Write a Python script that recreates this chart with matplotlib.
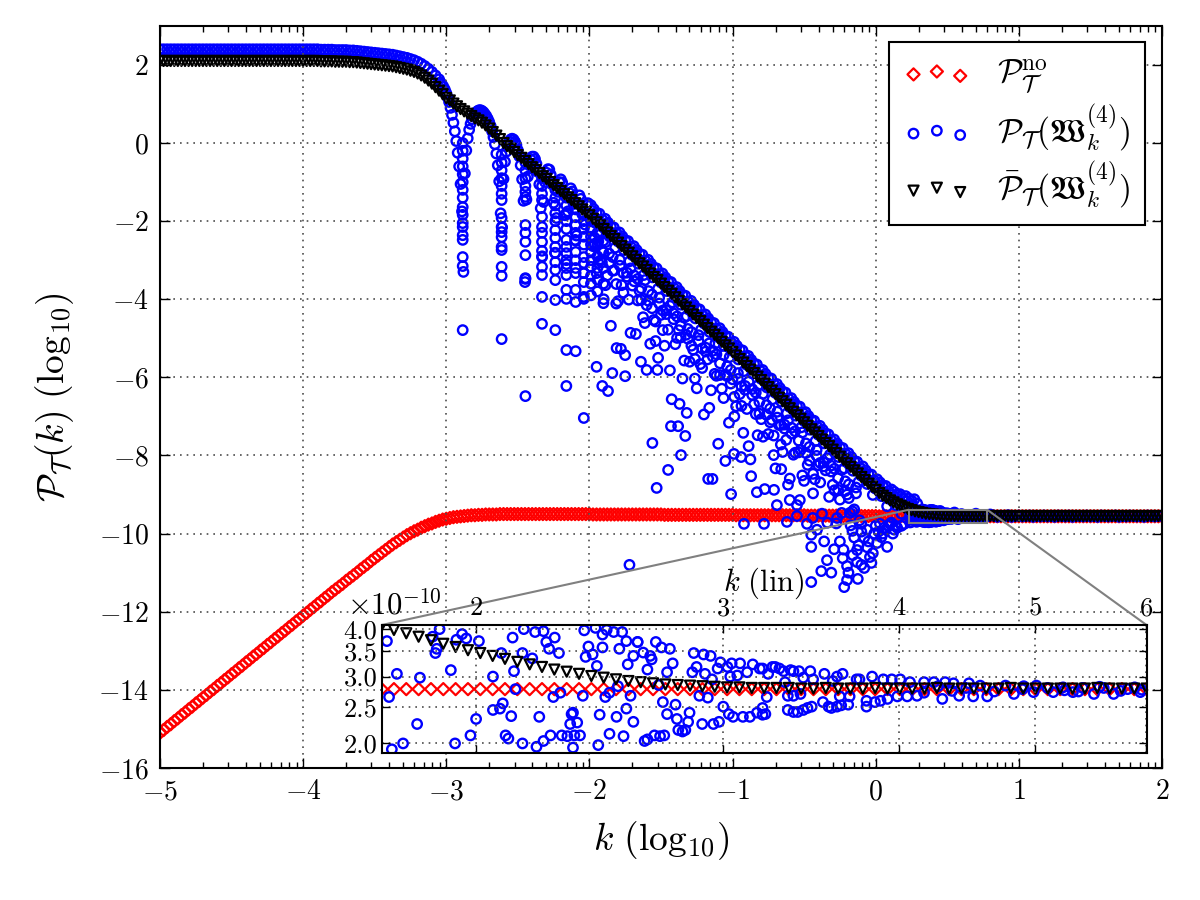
import numpy as np
import matplotlib
matplotlib.use("Agg")
import matplotlib.pyplot as plt
from mpl_toolkits.axes_grid1.inset_locator import mark_inset

plt.rcParams["font.family"] = "serif"
plt.rcParams["font.serif"] = ["cmr10"]
plt.rcParams["mathtext.fontset"] = "cm"
plt.rcParams["axes.formatter.use_mathtext"] = True

# ---- data (log10 k on x, log10 P on y) ----
# black: averaged spectrum, sampled every 0.025 in log10 k from -5 to 2
black_vals = (
    [2.10] * 41
    + [2.10, 2.10, 2.10, 2.10, 2.09, 2.09, 2.09, 2.09, 2.08, 2.08,
       2.08, 2.08, 2.07, 2.07, 2.06, 2.05, 2.04, 2.03, 2.02, 2.01,
       2.00, 1.99, 1.98, 1.97, 1.96, 1.94, 1.92, 1.90, 1.88, 1.85,
       1.82, 1.78, 1.73, 1.67, 1.60, 1.52, 1.43, 1.34, 1.25, 1.15,
       1.09, 1.01, 0.94, 0.87, 0.81, 0.75, 0.69, 0.63, 0.58, 0.52,
       0.45, 0.37, 0.28, 0.19, 0.10]
    + [0.00, -0.08, -0.15, -0.23, -0.31, -0.38, -0.46, -0.54, -0.62, -0.69,
       -0.77, -0.85, -0.92, -1.00, -1.08, -1.15, -1.23, -1.31, -1.39, -1.46,
       -1.54, -1.62, -1.70, -1.77, -1.85,
       -1.94, -2.03, -2.11, -2.20, -2.29, -2.38, -2.46, -2.55, -2.64, -2.73,
       -2.81, -2.90, -2.99, -3.08, -3.16, -3.25, -3.34, -3.43, -3.51, -3.60,
       -3.69, -3.78, -3.86, -3.95, -4.04, -4.13, -4.21, -4.30, -4.39, -4.48,
       -4.56, -4.65, -4.74, -4.83, -4.91, -5.00, -5.09, -5.18, -5.26, -5.35,
       -5.44, -5.53, -5.62, -5.71, -5.80, -5.89, -5.98, -6.07, -6.16, -6.25,
       -6.34, -6.43, -6.52, -6.61, -6.70, -6.79, -6.88, -6.97, -7.06, -7.15,
       -7.24, -7.33, -7.41, -7.50, -7.59, -7.68, -7.76, -7.85, -7.94, -8.03,
       -8.11, -8.20, -8.29, -8.38, -8.46, -8.55, -8.63, -8.72, -8.80, -8.88]
    + [-8.96, -9.03, -9.09, -9.15, -9.20, -9.25, -9.29, -9.33, -9.37, -9.40,
       -9.43, -9.45, -9.47, -9.49, -9.50, -9.51, -9.52, -9.53, -9.535, -9.54,
       -9.54, -9.545, -9.545]
    + [-9.55] * 57
)

# red: no-window spectrum, same sampling
red_vals = (
    [-15.10, -15.03, -14.95, -14.88, -14.80, -14.73, -14.65, -14.58, -14.50, -14.43,
     -14.35, -14.28, -14.20, -14.13, -14.05, -13.98, -13.90, -13.83, -13.75, -13.68,
     -13.60, -13.53, -13.45, -13.38, -13.30, -13.23, -13.15, -13.08, -13.00, -12.93,
     -12.85, -12.78, -12.70, -12.63, -12.55, -12.48, -12.40, -12.33, -12.25, -12.18,
     -12.10]
    + [-12.03, -11.95, -11.88, -11.80, -11.73, -11.65, -11.58, -11.50, -11.43, -11.36,
       -11.29, -11.21, -11.14, -11.07, -11.00, -10.92, -10.85, -10.78, -10.70, -10.63,
       -10.56, -10.49, -10.42, -10.35, -10.28, -10.22, -10.16, -10.10, -10.04, -9.99,
       -9.94, -9.90, -9.85, -9.81, -9.77, -9.74, -9.70, -9.67, -9.64, -9.62]
    + [-9.60, -9.58, -9.57, -9.56, -9.55, -9.54, -9.53, -9.53, -9.52, -9.52,
       -9.51, -9.51, -9.51, -9.51, -9.50, -9.50, -9.50, -9.50, -9.50, -9.50]
    + [-9.50] * 20 + [-9.51] * 20
    + [-9.52] * 20 + [-9.53] * 20
    + [-9.54] * 10 + [-9.55] * 10
    + [-9.556] * 80
)

# blue: windowed spectrum
blue_flat = (
    [2.40] * 41
    + [2.40, 2.40, 2.40, 2.40, 2.39, 2.39, 2.39, 2.39, 2.38, 2.38,
       2.38, 2.38, 2.37, 2.37, 2.36, 2.35, 2.34, 2.33, 2.32, 2.31,
       2.30, 2.29, 2.28, 2.27, 2.26, 2.24, 2.22, 2.20, 2.18, 2.15,
       2.12, 2.08, 2.03, 1.97, 1.90, 1.82, 1.73, 1.63]
)  # -5.0 .. -3.05

blue_arch = [
    1.55, 1.50, 1.44, 1.37, 1.28, 1.17, 1.05, 0.90, 0.72, 0.52,
    0.30, 0.05, -0.25, -0.60, -1.05, -1.75, -3.30, -0.78, -0.19, 0.12,
    0.34, 0.49, 0.61, 0.68, 0.75, 0.79, 0.82, 0.84, 0.84, 0.82,
    0.79, 0.74, 0.69, 0.62, 0.54, 0.44, 0.30, 0.15, -0.03, -0.27,
    -0.57, -0.98, -1.80, -2.16, -0.92, -0.48, -0.22, -0.06, 0.04, 0.09,
    0.11, 0.09, 0.03, -0.05, -0.18, -0.34, -0.57, -0.93, -1.48, -3.56,
    -1.45, -0.86, -0.57, -0.42, -0.35, -0.35, -0.41, -0.53, -0.74, -1.06,
    -1.67, -2.90, -1.51, -1.00, -0.76, -0.67, -0.68, -0.81, -1.06, -1.53,
    -2.81, -1.92, -1.25, -1.00, -0.93, -1.01, -1.26, -1.85, -3.10, -1.75,
    -1.28, -1.16, -1.24, -1.56, -2.48, -2.37, -1.56, -1.34, -1.43, -1.82,
    -3.33, -2.09, -1.58, -1.54, -1.88,
]  # -3.04 .. -2.00, step 0.01

blue_band = [
    -1.59, -1.74, -1.69, -2.04, -1.79, -1.96, -1.81, -2.33, -1.96, -2.17,
    -1.94, -2.09, -2.04, -2.39, -2.14, -2.31, -2.16, -2.68, -2.31, -2.52,
    -2.29, -2.44, -2.39, -2.74, -2.49, -2.66, -2.51, -3.03, -2.66, -2.87,
    -2.64, -2.79, -2.74, -3.09, -2.84, -3.01, -2.86, -3.38, -3.01, -3.22,
    -2.99, -3.14, -3.09, -3.44, -3.19, -3.36, -3.21, -3.73, -3.36, -3.57,
    -3.34, -3.49, -3.44, -3.79, -3.54, -3.71, -3.56, -4.08, -3.71, -3.92,
    -3.69, -3.84, -3.79, -4.14, -3.89, -4.06, -3.91, -4.43, -4.06, -4.27,
    -4.04, -4.19, -4.14, -4.49, -4.24, -4.41, -4.26, -4.78, -4.41, -4.62,
    -4.39, -4.54, -4.49, -4.84, -4.59, -4.76, -4.61, -5.13, -4.76, -4.97,
    -4.74, -4.89, -4.84, -5.19, -4.94, -5.11, -4.96, -5.48, -5.11, -5.32,
    -5.09, -5.24, -5.19, -5.54, -5.29, -5.47, -5.31, -5.84, -5.46, -5.68,
    -5.45, -5.60, -5.55, -5.90, -5.65, -5.83, -5.67, -6.20, -5.82, -6.04,
    -5.81, -5.96, -5.91, -6.26, -6.01, -6.19, -6.03, -6.56, -6.18, -6.40,
    -6.17, -6.32, -6.27, -6.62, -6.37, -6.55, -6.39, -6.92, -6.54, -6.76,
    -6.53, -6.68, -6.63, -6.98, -6.73, -6.91, -6.75, -7.28, -6.90, -7.12,
    -6.89, -7.04, -6.99, -7.34, -7.09, -7.26, -7.11, -7.63, -7.26, -7.47,
    -7.24, -7.39, -7.34, -7.69, -7.44, -7.61, -7.46, -7.98, -7.61, -7.82,
    -7.59, -7.74, -7.69, -8.04, -7.79, -7.96, -7.81, -8.33, -7.96, -8.17,
    -7.94, -8.09, -8.04, -8.39, -8.14, -8.31, -8.16, -8.68, -8.31, -8.52,
    -8.28, -8.44, -8.38, -8.73, -8.48, -8.65, -8.49, -9.01, -8.64, -8.85,
    -8.61, -8.75, -8.69, -9.04, -8.78, -8.94, -8.78, -9.30, -8.91, -9.12,
    -8.87, -9.01, -8.93, -9.27, -9.00, -9.16, -8.99, -9.49, -9.10, -9.30,
    -9.04, -9.17, -9.10, -9.43, -9.15, -9.30, -9.12, -9.63, -9.23, -9.42,
]  # -1.99 .. 0.30, step 0.01

blue_mid1 = [
    -2.64, -3.33, -3.01, -4.00, -3.39, -4.68, -3.26, -4.05, -3.64, -5.43,
    -4.01, -3.65, -4.89, -3.78, -4.46, -4.15, -5.14, -4.53, -5.81, -4.40,
    -5.19, -4.78, -6.56, -5.15, -4.79, -6.03, -4.91, -5.60, -5.29, -6.28,
    -5.66, -6.95, -5.54, -6.33, -5.91, -7.70, -6.29, -5.93, -7.16, -6.05,
    -6.74, -6.43, -7.42, -6.81, -8.10, -6.69, -7.48, -7.07, -8.86, -7.45,
    -7.09, -8.33, -7.22, -7.91, -7.60, -8.59, -7.98, -9.27, -7.86, -8.65,
    -8.24, -10.03, -8.61, -8.25, -9.49, -8.38, -9.06, -8.75, -9.74, -9.13,
    -10.41, -9.00, -9.79, -9.38, -11.16, -9.75,
]  # -1.975 .. -0.100, step 0.025

blue_mid2 = [
    -2.43, -3.07, -2.76, -3.64, -2.83, -3.27, -4.11, -3.14, -3.83, -3.42,
    -4.86, -3.39, -4.03, -3.72, -4.61, -3.79, -4.23, -5.07, -4.11, -4.79,
    -4.38, -5.82, -4.36, -4.99, -4.68, -5.57, -4.76, -5.19, -6.03, -5.07,
    -5.76, -5.34, -6.78, -5.32, -5.96, -5.64, -6.53, -5.72, -6.16, -7.00,
    -6.04, -6.73, -6.32, -7.76, -6.30, -6.94, -6.63, -7.52, -6.71, -7.15,
    -7.99, -7.03, -7.72, -7.31, -8.75, -7.29, -7.93, -7.62, -8.51, -7.69,
    -8.13, -8.97, -8.01, -8.69, -8.28, -9.72, -8.26, -8.89, -8.58, -9.47,
    -8.66, -9.09, -9.93, -8.97, -9.66,
]  # -1.9625 .. -0.1125, step 0.025

blue_mid3 = [
    -2.24, -2.58, -2.52, -3.06, -2.54, -3.08, -2.92, -3.61, -2.99, -3.33,
    -3.32, -3.21, -3.54, -3.48, -4.02, -3.51, -4.04, -3.88, -4.57, -3.96,
    -4.29, -4.28, -4.17, -4.51, -4.44, -4.98, -4.47, -5.01, -4.84, -5.53,
    -4.92, -5.26, -5.24, -5.13, -5.47, -5.41, -5.94, -5.43, -5.97, -5.81,
    -6.50, -5.89, -6.23, -6.22, -6.11, -6.45, -6.39, -6.93, -6.42, -6.96,
    -6.80, -7.49, -6.88, -7.22, -7.21, -7.10, -7.44, -7.38, -7.92, -7.41,
    -7.94, -7.78, -8.47, -7.86, -8.19, -8.18, -8.07, -8.41, -8.34, -8.88,
    -8.37, -8.91, -8.74, -9.43, -8.82,
]  # -1.9875 .. -0.1375, step 0.025

blue_right = [
    -9.38, -9.68, -9.45, -9.62, -9.50, -9.42, -9.66, -9.48, -9.58, -9.46, -9.63,
    -9.50, -9.60, -9.52, -9.57, -9.49, -9.59, -9.53, -9.56, -9.51,
    -9.54, -9.57, -9.55, -9.56, -9.53, -9.57, -9.55, -9.54, -9.56, -9.55,
    -9.54, -9.57, -9.55, -9.56, -9.54, -9.56, -9.55, -9.57, -9.54, -9.55,
    -9.56, -9.54, -9.57, -9.55, -9.55, -9.56, -9.54, -9.56, -9.55, -9.57,
    -9.54, -9.55, -9.56, -9.55, -9.54, -9.57, -9.55, -9.56, -9.54, -9.55,
    -9.56, -9.55, -9.57, -9.54, -9.55, -9.56, -9.55, -9.54,
]  # 0.325 .. 2.0, step 0.025

# columns of points at the first interference dips
dip_logk = [-2.885, -2.613, -2.447, -2.331, -2.238, -2.161, -2.096, -2.039, -1.989, -1.944, -1.902]
dip_vals = [
    [0.0, -0.2, -0.4, -0.6, -0.8, -1.0, -1.2, -1.4, -1.64, -1.84, -2.05, -2.15, -2.36, -2.48, -2.92, -3.15, -4.79],
    [-0.3, -0.5, -0.7, -0.9, -1.1, -1.3, -1.46, -1.92, -2.15, -2.28, -2.41, -2.66, -2.74, -3.17, -3.40, -5.02],
    [-0.5, -0.7, -0.9, -1.1, -1.25, -1.38, -2.10, -2.30, -2.53, -2.87, -3.46, -3.48, -6.48],
    [-0.9, -1.1, -1.3, -1.46, -1.89, -2.15, -2.30, -2.53, -2.76, -2.92, -3.17, -3.38, -3.94, -4.63],
    [-1.2, -1.4, -1.6, -1.8, -2.0, -2.23, -2.43, -2.66, -2.82, -3.05, -3.25, -3.51, -4.02, -4.79],
    [-1.4, -1.6, -1.8, -2.0, -2.2, -2.48, -2.66, -2.82, -3.0, -3.2, -3.38, -3.76, -3.99, -5.30, -6.22],
    [-1.7, -1.9, -2.1, -2.3, -2.5, -2.79, -3.0, -3.2, -3.33, -3.76, -4.07, -5.33],
    [-1.8, -2.0, -2.2, -2.4, -2.6, -2.92, -3.07, -3.33, -3.56, -3.94, -3.99, -7.04],
    [-2.0, -2.2, -2.4, -2.6, -2.8, -3.0, -3.17, -3.4, -3.6, -3.9],
    [-2.3, -2.6, -2.9, -3.2, -3.5, -3.8],
    [-2.5, -2.8, -3.2, -3.6, -4.1],
]

# isolated low points
blue_out_logk = [-1.95, -1.91, -1.87, -1.84, -1.81, -1.78, -1.75, -1.72, -1.64, -1.60,
                 -1.56, -1.53, -1.52, -1.45, -1.43, -1.38, -1.37, -1.36, -1.33, -1.32,
                 -1.17, -1.14, -1.05, -1.01, -0.99, -0.94, -0.92, -0.87, -0.83, -0.78,
                 -0.71, -0.69, -0.66, -0.60, -0.53, -0.45, -0.45, -0.44, -0.38, -0.34,
                 -0.31, -0.27, -0.23, -0.22, -0.20, -0.20, -0.19, -0.18, -0.15, -0.13,
                 -0.13, -0.10, -0.08, -0.03, -0.02, 0.01, 0.04, 0.08, 0.12, 0.06,
                 0.10, 0.15, 0.02, -0.05, -0.06,
                 -0.10, -0.08, -0.06, -0.04, -0.01, 0.00, 0.03, 0.05, 0.07, 0.09,
                 0.11, 0.13, 0.14, 0.18, 0.20, -0.12, -0.16, -0.25, -0.29, -0.36,
                 -0.41, -0.48, -0.55, -0.62]
blue_out_vals = [-5.73, -6.22, -6.35, -5.89, -5.25, -5.27, -5.97, -10.80, -5.60, -5.81,
                 -7.68, -8.83, -5.50, -8.37, -7.25, -7.25, -6.68, -7.99, -7.50, -6.91,
                 -8.60, -8.60, -8.14, -8.99, -7.96, -8.04, -9.75, -8.53, -8.94, -9.75,
                 -8.88, -9.27, -8.35, -9.14, -9.14, -10.34, -11.24, -9.60, -10.96, -10.68,
                 -11.00, -9.60, -10.63, -11.37, -11.19, -10.83, -11.00, -9.47, -10.10, -10.42,
                 -10.73, -10.80, -10.88, -10.75, -10.50, -10.24, -10.09, -10.34, -10.00, -9.85,
                 -9.75, -9.85, -9.95, -10.20, -9.90,
                 -9.95, -10.10, -10.35, -10.60, -10.00, -9.80, -9.75, -10.00, -9.90, -9.80,
                 -9.72, -9.90, -9.80, -9.80, -9.75, -10.30, -10.55, -10.20, -10.40, -10.20,
                 -9.90, -9.75, -9.55, -9.70]

# zoomed region, k linear from 1.71 to 6, values in units of 1e-10
ins_black = [4.08, 3.98, 3.90, 3.82, 3.74, 3.66, 3.59, 3.52, 3.46, 3.40,
             3.34, 3.28, 3.23, 3.18, 3.13, 3.09, 3.05, 3.01, 2.98, 2.95,
             2.92, 2.90, 2.88, 2.86, 2.85, 2.84, 2.83, 2.82, 2.81, 2.81,
             2.80, 2.80, 2.80, 2.80, 2.79, 2.79, 2.80, 2.79, 2.79, 2.79,
             2.80, 2.79, 2.79, 2.79, 2.79, 2.80, 2.79, 2.79, 2.79, 2.79,
             2.79, 2.80, 2.79, 2.79, 2.79, 2.79, 2.79, 2.79, 2.80, 2.79,
             2.79, 2.79, 2.79]
ins_red = [2.78] * 63

ins_blue_logk = [0.2375, 0.2446, 0.239, 0.241, 0.249, 0.259, 0.261, 0.270, 0.272, 0.273,
                 0.275, 0.283, 0.286, 0.287, 0.291, 0.294, 0.297, 0.301, 0.303, 0.313,
                 0.313, 0.318, 0.319, 0.320, 0.322, 0.324, 0.326, 0.327, 0.328, 0.329,
                 0.334, 0.334, 0.335, 0.341, 0.343, 0.344, 0.346, 0.349, 0.349, 0.351,
                 0.353, 0.354, 0.356, 0.357, 0.360, 0.361, 0.362, 0.366, 0.368, 0.369,
                 0.370, 0.370, 0.371, 0.373, 0.375, 0.377, 0.378, 0.379, 0.381, 0.384,
                 0.386, 0.387, 0.388, 0.389, 0.391, 0.391, 0.393, 0.394, 0.396, 0.396,
                 0.399, 0.401, 0.402, 0.403, 0.405, 0.406, 0.408, 0.408, 0.409, 0.411,
                 0.413, 0.413, 0.416, 0.416, 0.420, 0.421, 0.423, 0.423, 0.425, 0.426,
                 0.428, 0.429, 0.431, 0.432, 0.433, 0.434, 0.435, 0.437, 0.437, 0.439,
                 0.441, 0.443, 0.444, 0.445, 0.448, 0.450, 0.452, 0.453, 0.455, 0.456,
                 0.458, 0.460, 0.462, 0.463, 0.464, 0.466, 0.468, 0.469, 0.470, 0.473,
                 0.474, 0.475, 0.477, 0.480, 0.481, 0.482, 0.483, 0.484, 0.487, 0.489,
                 0.491, 0.494, 0.496, 0.498, 0.501, 0.503, 0.505, 0.508]
ins_blue_vals = [3.72, 3.05, 2.65, 1.93, 2.0, 2.25, 2.98, 3.82, 3.46, 3.55,
                 4.0, 3.12, 2.0, 3.75, 3.88, 3.78, 2.1, 2.32, 3.72, 3.0,
                 2.45, 2.47, 3.46, 2.55, 2.1, 2.06, 2.36, 3.80, 3.10, 2.78,
                 2.0, 3.46, 4.0, 3.35, 3.93, 1.96, 2.35, 3.95, 2.03, 3.70,
                 3.55, 2.1, 2.65, 3.80, 3.46, 2.72, 2.1, 2.09, 2.25, 2.39,
                 2.41, 1.95, 2.1, 2.27, 2.1, 2.67, 3.97, 3.38, 3.6, 3.43,
                 4.03, 3.2, 1.98, 2.38, 3.87, 3.58, 2.65, 3.98, 2.12, 2.72,
                 3.93, 2.35, 2.83, 3.55, 3.93, 2.09, 3.72, 2.47, 3.23, 2.67,
                 3.4, 2.28, 3.70, 3.70, 3.47, 2.03, 3.13, 2.05, 3.4, 3.33,
                 2.1, 3.7, 2.85, 2.09, 3.58, 2.57, 2.1, 3.08, 2.39, 3.55,
                 3.25, 2.53, 2.32, 2.17, 2.15, 2.17, 2.28, 2.41, 3.08, 3.46,
                 3.18, 2.67, 2.25, 3.43, 3.05, 2.64, 3.4, 2.95, 2.25, 3.15,
                 2.28, 3.27, 2.5, 3.18, 2.39, 3.0, 3.25, 2.35, 3.02, 3.25,
                 2.35, 3.08, 2.35, 3.23, 2.41, 3.15, 2.38, 2.65]
ins_blue2_logk = [0.505, 0.509, 0.512, 0.514, 0.517, 0.520, 0.521, 0.505, 0.507, 0.523,
                  0.527, 0.530, 0.534, 0.537, 0.540, 0.525, 0.527, 0.531, 0.534, 0.539,
                  0.541, 0.523, 0.527, 0.532, 0.548, 0.549, 0.552, 0.554, 0.558, 0.561,
                  0.566, 0.555, 0.558, 0.562, 0.560, 0.567, 0.572, 0.574, 0.579, 0.579,
                  0.583, 0.585, 0.589, 0.591, 0.594, 0.597, 0.601, 0.603, 0.608, 0.610,
                  0.615, 0.620, 0.627, 0.633, 0.635, 0.641, 0.645, 0.652, 0.655, 0.660,
                  0.665, 0.678, 0.684, 0.691, 0.698, 0.708, 0.712, 0.719, 0.726, 0.733,
                  0.741, 0.748, 0.755, 0.765, 0.774, 0.62, 0.63, 0.64, 0.65, 0.67,
                  0.69, 0.70, 0.72, 0.73, 0.745, 0.76, 0.77, 0.775]
ins_blue2_vals = [3.15, 3.05, 3.18, 3.18, 3.15, 3.10, 2.9, 2.48, 2.39, 2.45,
                  2.42, 2.42, 2.45, 2.48, 2.5, 3.12, 3.1, 3.1, 2.98, 3.1,
                  2.95, 2.67, 2.67, 2.7, 2.57, 3.05, 2.5, 2.48, 2.5, 2.52,
                  2.53, 2.92, 3.0, 3.05, 2.66, 2.66, 2.95, 2.95, 2.59, 2.5,
                  3.0, 2.57, 2.59, 2.95, 2.62, 2.95, 2.66, 2.95, 2.66, 2.9,
                  2.67, 2.9, 2.9, 2.62, 2.9, 2.88, 2.67, 2.88, 2.66, 2.84,
                  2.66, 2.84, 2.7, 2.83, 2.73, 2.8, 2.73, 2.81, 2.73, 2.8,
                  2.7, 2.8, 2.7, 2.78, 2.73, 2.72, 2.83, 2.75, 2.8, 2.74,
                  2.78, 2.84, 2.76, 2.74, 2.82, 2.75, 2.81, 2.77]

ins_xticks = [2, 3, 4, 5, 6]
ins_yticks = [2.0, 2.5, 3.0, 3.5, 4.0]

# ---- assemble positions ----
black_x = np.linspace(-5, 2, len(black_vals))
red_x = np.linspace(-5, 2, len(red_vals))
bx = np.concatenate([
    np.linspace(-5, -3.05, len(blue_flat)),
    np.linspace(-3.04, -2.00, len(blue_arch)),
    np.linspace(-1.99, 0.30, len(blue_band)),
    np.linspace(-1.975, -0.1, len(blue_mid1)),
    np.linspace(-1.9625, -0.1125, len(blue_mid2)),
    np.linspace(-1.9875, -0.1375, len(blue_mid3)),
    np.linspace(0.325, 2.0, len(blue_right)),
    np.concatenate([[x] * len(v) for x, v in zip(dip_logk, dip_vals)]),
    blue_out_logk,
])
by = np.concatenate([blue_flat, blue_arch, blue_band, blue_mid1, blue_mid2, blue_mid3,
                     blue_right, np.concatenate(dip_vals), blue_out_vals])

ins_x = np.linspace(0.2337, 0.7785, len(ins_black))
ins_bk_x = np.concatenate([ins_blue_logk, ins_blue2_logk])
ins_bk_y = np.log10(np.concatenate([ins_blue_vals, ins_blue2_vals]) * 1e-10)
ins_black_y = np.log10(np.array(ins_black) * 1e-10)
ins_red_y = np.log10(np.array(ins_red) * 1e-10)

red_style = dict(marker="D", facecolors="none", edgecolors="r", s=38, linewidths=1.6)
blue_style = dict(marker="o", facecolors="none", edgecolors="b", s=46, linewidths=1.7)
black_style = dict(marker="v", facecolors="none", edgecolors="k", s=52, linewidths=1.6)

# ---- main plot ----
fig = plt.figure(figsize=(12, 9), dpi=100)
ax = fig.add_axes([0.1333, 0.1467, 0.835, 0.8246])

ax.scatter(red_x, red_vals, label=r"$\mathcal{P}_{\mathcal{T}}^{\mathrm{no}}$", **red_style)
ax.scatter(np.concatenate([bx, ins_bk_x]), np.concatenate([by, ins_bk_y]),
           label=r"$\mathcal{P}_{\mathcal{T}}(\mathfrak{W}_k^{(4)})$", **blue_style)
ax.scatter(black_x, black_vals,
           label=r"$\bar{\mathcal{P}}_{\mathcal{T}}(\mathfrak{W}_k^{(4)})$", **black_style)

ax.set_xlim(-5, 2)
ax.set_ylim(-16, 3)
ax.set_xticks(range(-5, 3))
minor_x = [d + np.log10(n) for d in range(-5, 2) for n in range(2, 10)]
ax.set_xticks(minor_x, minor=True)
ax.set_yticks(range(-16, 3, 2))
ax.tick_params(direction="in", top=True, right=True, labelsize=20, length=7, width=1, pad=8)
ax.tick_params(which="minor", direction="in", top=True, length=4, width=1)
ax.grid(True, color="0.3", linestyle=(0, (1, 3)), linewidth=1.2)
for sp in ax.spines.values():
    sp.set_linewidth(1.5)
ax.set_xlabel(r"$k\ (\mathrm{log}_{10})$", fontsize=27, labelpad=10)
ax.set_ylabel(r"$\mathcal{P}_{\mathcal{T}}(k)\ (\mathrm{log}_{10})$", fontsize=27, labelpad=16)

leg = ax.legend(loc="upper right", scatterpoints=3, scatteryoffsets=[0.375, 0.5, 0.3125],
                fontsize=24, fancybox=False, edgecolor="k", framealpha=1,
                borderaxespad=0.5, labelspacing=0.2, handletextpad=0.8, borderpad=0.45)
leg.get_frame().set_linewidth(1.5)

# ---- inset ----
axins = fig.add_axes([0.318, 0.1633, 0.6375, 0.1422])
axins.scatter(ins_x, ins_red_y, **red_style)
axins.scatter(ins_bk_x, ins_bk_y, **blue_style)
axins.scatter(ins_x, ins_black_y, **black_style)
axins.set_xlim(0.2337, 0.7785)
axins.set_ylim(np.log10(1.887e-10), np.log10(4.10e-10))
axins.set_xticks(np.log10(ins_xticks))
axins.set_xticklabels([str(t) for t in ins_xticks])
axins.set_yticks(np.log10(np.array(ins_yticks) * 1e-10))
axins.set_yticklabels(["%.1f" % t for t in ins_yticks])
axins.tick_params(direction="in", top=True, right=True, labeltop=True, labelbottom=False,
                  labelsize=19, length=6, width=1)
axins.tick_params(axis="y", pad=3)
axins.grid(True, color="0.3", linestyle=(0, (1, 3)), linewidth=1.2)
for sp in axins.spines.values():
    sp.set_linewidth(1.5)
axins.xaxis.set_label_position("top")
axins.set_xlabel(r"$k\ (\mathrm{lin})$", fontsize=22, labelpad=4)
axins.text(-0.045, 1.035, r"$\times10^{-10}$", transform=axins.transAxes,
           fontsize=22, ha="left", va="bottom")

mark_inset(ax, axins, loc1=2, loc2=1, fc="none", ec="0.5", lw=1.5)

fig.savefig("out.png", dpi=100)
